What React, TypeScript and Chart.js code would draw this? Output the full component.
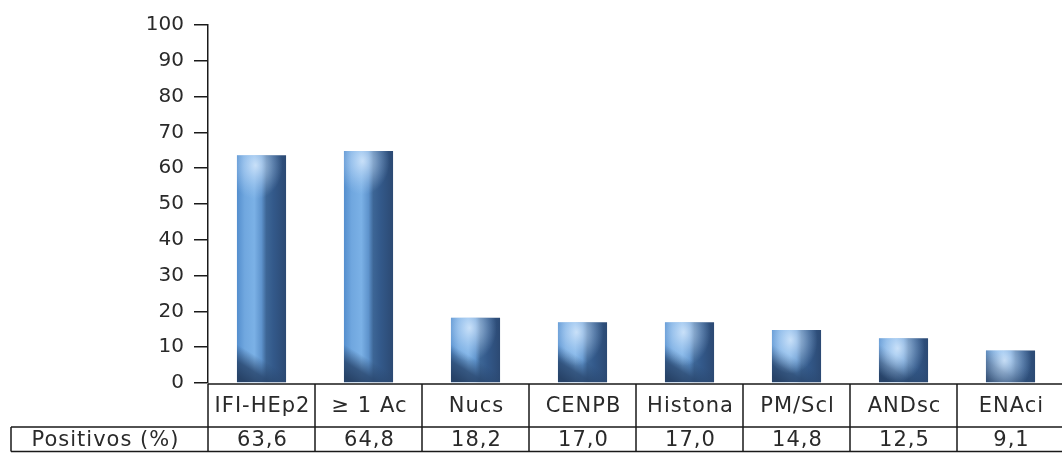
import React, { useEffect, useRef } from "react";
import { Chart, registerables } from "chart.js";

Chart.register(...registerables);

const categories = ["IFI-HEp2", "\u2265 1 Ac", "Nucs", "CENPB", "Histona", "PM/Scl", "ANDsc", "ENAci"];
const positivos = [63.6, 64.8, 18.2, 17.0, 17.0, 14.8, 12.5, 9.1];
const seriesName = "Positivos (%)";
const yTicks = [0, 10, 20, 30, 40, 50, 60, 70, 80, 90, 100];

const FONT = "'DejaVu Sans', Verdana, sans-serif";
const fmt = (v: number) => v.toFixed(1).replace(".", ",");

const barShading = {
  id: "barShading",
  afterDatasetsDraw(chart: any) {
    const ctx = chart.ctx as CanvasRenderingContext2D;
    const meta = chart.getDatasetMeta(0);
    meta.data.forEach((bar: any) => {
      const { x, y, base, width } = bar.getProps(["x", "y", "base", "width"], true);
      const left = x - width / 2;
      const top = Math.min(y, base);
      const bottom = Math.max(y, base);
      const h = bottom - top;
      ctx.save();
      ctx.beginPath();
      ctx.rect(left, top, width, h);
      ctx.clip();
      // bottom dark wedge (soft)
      const gb = ctx.createLinearGradient(left + width * 0.65, bottom - 36, left + width * 0.2, bottom);
      gb.addColorStop(0, "rgba(42,72,112,0)");
      gb.addColorStop(0.35, "rgba(42,72,112,0)");
      gb.addColorStop(0.7, "rgba(42,72,112,0.85)");
      gb.addColorStop(1, "rgba(36,62,98,0.95)");
      ctx.fillStyle = gb;
      ctx.fillRect(left, bottom - 44, width, 44);
      // top highlight (elliptical, soft)
      const cx = left + width * 0.38;
      const cy = top + 10;
      const r = width * 0.55;
      ctx.save();
      ctx.translate(cx, cy);
      ctx.scale(1, 1.25);
      const gr = ctx.createRadialGradient(0, 0, 0, 0, 0, r);
      gr.addColorStop(0, "rgba(215,233,252,0.85)");
      gr.addColorStop(0.5, "rgba(190,218,248,0.45)");
      gr.addColorStop(1, "rgba(170,205,242,0)");
      ctx.fillStyle = gr;
      ctx.fillRect(-width, -r, width * 2, r * 2);
      ctx.restore();
      ctx.restore();
    });
  },
};

const dataTable = {
  id: "dataTable",
  afterDraw(chart: any) {
    const ctx = chart.ctx as CanvasRenderingContext2D;
    const { left, right, bottom } = chart.chartArea;
    const n = categories.length;
    const step = (right - left) / n;
    const yTop = bottom + 1;
    const yMid = bottom + 44;
    const yBot = 451.5;
    const xLab = 11;
    ctx.save();
    ctx.strokeStyle = "#1a1a1a";
    ctx.lineWidth = 1.5;
    ctx.beginPath();
    ctx.moveTo(left, yTop);
    ctx.lineTo(right + 2, yTop);
    ctx.moveTo(xLab, yMid);
    ctx.lineTo(right + 2, yMid);
    ctx.moveTo(xLab, yBot);
    ctx.lineTo(right + 2, yBot);
    ctx.moveTo(xLab, yMid);
    ctx.lineTo(xLab, yBot);
    for (let i = 0; i <= n; i++) {
      const bx = left + i * step;
      ctx.moveTo(bx, yTop);
      ctx.lineTo(bx, yBot);
    }
    ctx.stroke();
    ctx.fillStyle = "#2a2a2a";
    ctx.font = `21px ${FONT}`;
    (ctx as any).letterSpacing = "1px";
    ctx.textAlign = "center";
    ctx.textBaseline = "middle";
    categories.forEach((c, i) => {
      const cx = chart.scales.x.getPixelForValue(i);
      ctx.fillText(c, cx + 1, (yTop + yMid) / 2 + 1);
      ctx.fillText(fmt(positivos[i]), cx + 1, (yMid + yBot) / 2 + 1);
    });
    ctx.fillText(seriesName, (xLab + left) / 2 - 4, (yMid + yBot) / 2 + 1);
    ctx.restore();
  },
};

export default function App() {
  const ref = useRef<HTMLCanvasElement>(null);
  useEffect(() => {
    document.body.style.margin = "0";
    const canvas = ref.current!;
    const chart = new Chart(canvas, {
      type: "bar",
      data: {
        labels: categories,
        datasets: [
          {
            label: seriesName,
            data: positivos,
            barPercentage: 0.9,
            categoryPercentage: 0.51,
            borderWidth: 0,
            backgroundColor: (c: any) => {
              const ch = c.chart;
              if (!ch.chartArea || !ch.scales.x) return "#4a7fc0";
              const meta = ch.getDatasetMeta(0);
              const el = meta.data[c.dataIndex];
              const x = ch.scales.x.getPixelForValue(c.dataIndex);
              const w = el && el.width ? el.width : 48;
              const g = ch.ctx.createLinearGradient(x - w / 2, 0, x + w / 2, 0);
              g.addColorStop(0, "#5690cf");
              g.addColorStop(0.15, "#70a7df");
              g.addColorStop(0.35, "#7bb1e6");
              g.addColorStop(0.5, "#5e93cc");
              g.addColorStop(0.6, "#3d6696");
              g.addColorStop(0.75, "#33598a");
              g.addColorStop(1, "#2c4a74");
              return g;
            },
          },
        ],
      },
      options: {
        responsive: false,
        animation: false,
        devicePixelRatio: 1,
        layout: { padding: { left: 0, right: 6, top: 25, bottom: 70 } },
        plugins: { legend: { display: false }, tooltip: { enabled: false } },
        scales: {
          x: { display: false, offset: true },
          y: {
            min: 0,
            max: 100,
            afterFit: (s: any) => {
              s.width = 208;
            },
            afterBuildTicks: (s: any) => {
              s.ticks = yTicks.map((v) => ({ value: v }));
            },
            ticks: {
              color: "#2a2a2a",
              font: { family: FONT, size: 20 },
              padding: 10,
            },
            grid: {
              drawOnChartArea: false,
              drawTicks: true,
              tickLength: 14,
              color: "#1a1a1a",
              lineWidth: 1.5,
            },
            border: { display: true, color: "#1a1a1a", width: 1.5 },
          },
        },
      },
      plugins: [barShading, dataTable],
    });
    return () => chart.destroy();
  }, []);
  return (
    <div style={{ position: "absolute", left: 0, top: 0, width: 1062, height: 453, overflow: "hidden", background: "#fff" }}>
      <canvas ref={ref} width={1070} height={453} style={{ display: "block" }} />
    </div>
  );
}
